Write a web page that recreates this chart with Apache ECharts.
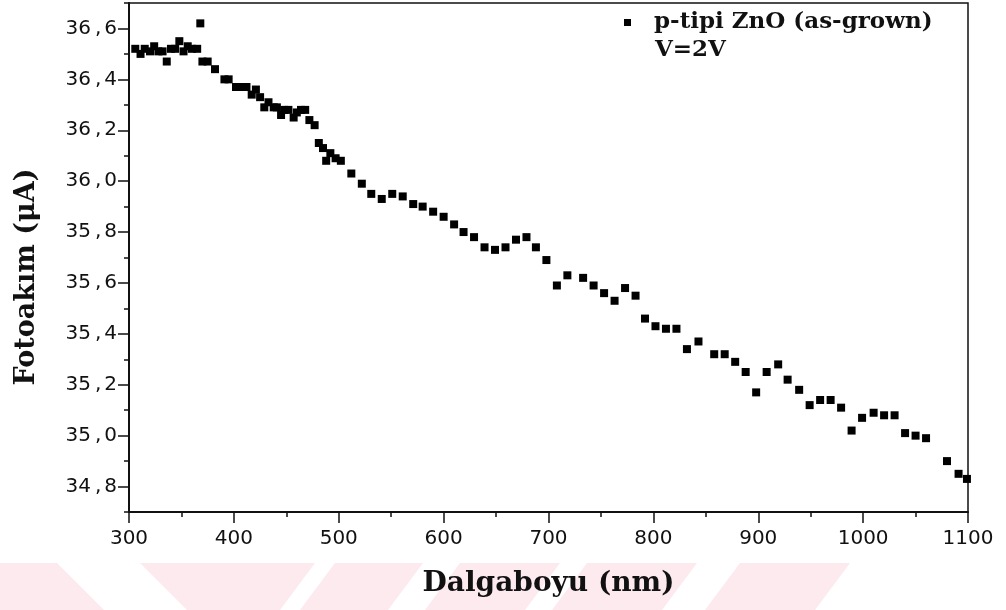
<!DOCTYPE html>
<html>
<head>
<meta charset="utf-8">
<script src="https://cdn.jsdelivr.net/npm/echarts@6/dist/echarts.min.js"></script>
<style>
  html, body { margin: 0; padding: 0; background: #ffffff; }
  #chart { width: 1006px; height: 610px; }
</style>
</head>
<body>
<div id="chart"></div>
<script>
// Photocurrent of p-type ZnO (as-grown) versus wavelength, bias 2 V
const wavelength = [
  306, 311, 315, 320, 324, 328, 332, 336, 340, 344,
  348, 352, 356, 360, 365, 368, 370, 375, 382, 391,
  395, 402, 406, 412, 417, 421, 425, 429, 433, 438,
  441, 445, 448, 452, 457, 460, 464, 468, 472, 477,
  481, 485, 488, 492, 497, 502,
  512, 522, 531, 541, 551, 561, 571, 580, 590, 600,
  610, 619, 629, 639, 649, 659, 669, 679, 688, 698,
  708, 718, 733, 743, 753, 763, 773, 783, 792, 802,
  812, 822, 832, 843, 858, 868, 878, 888, 898, 908,
  919, 928, 939, 949, 959, 969, 979, 989, 999, 1010,
  1020, 1030, 1040, 1050, 1060, 1080, 1091, 1099
];
const photocurrent = [
  36.52, 36.50, 36.52, 36.51, 36.53, 36.51, 36.51, 36.47, 36.52, 36.52,
  36.55, 36.51, 36.53, 36.52, 36.52, 36.62, 36.47, 36.47, 36.44, 36.40,
  36.40, 36.37, 36.37, 36.37, 36.34, 36.36, 36.33, 36.29, 36.31, 36.29,
  36.29, 36.26, 36.28, 36.28, 36.25, 36.27, 36.28, 36.28, 36.24, 36.22,
  36.15, 36.13, 36.08, 36.11, 36.09, 36.08,
  36.03, 35.99, 35.95, 35.93, 35.95, 35.94, 35.91, 35.90, 35.88, 35.86,
  35.83, 35.80, 35.78, 35.74, 35.73, 35.74, 35.77, 35.78, 35.74, 35.69,
  35.59, 35.63, 35.62, 35.59, 35.56, 35.53, 35.58, 35.55, 35.46, 35.43,
  35.42, 35.42, 35.34, 35.37, 35.32, 35.32, 35.29, 35.25, 35.17, 35.25,
  35.28, 35.22, 35.18, 35.12, 35.14, 35.14, 35.11, 35.02, 35.07, 35.09,
  35.08, 35.08, 35.01, 35.00, 34.99, 34.90, 34.85, 34.83
];
const yMajorTicks = [34.8, 35.0, 35.2, 35.4, 35.6, 35.8, 36.0, 36.2, 36.4, 36.6];
const yMinorTicks = [34.7, 34.9, 35.1, 35.3, 35.5, 35.7, 35.9, 36.1, 36.3, 36.5, 36.7];
const seriesName = 'p-tipi ZnO (as-grown)';
const biasNote = 'V=2V';
const xTitle = 'Dalgaboyu (nm)';
const yTitle = 'Fotoakım (μA)';

const INK = '#111111';
const MARK = '#000000';
const PINK = '#fdeaee';
const TICK_FONT = 'DejaVu Sans';
const TITLE_FONT = 'DejaVu Serif';

// faint diagonal bands along the bottom edge of the page
const bands = [
  [[0, 563], [57, 563], [104, 610], [0, 610]],
  [[140, 563], [315, 563], [280, 610], [187, 610]],
  [[335, 563], [423, 563], [388, 610], [300, 610]],
  [[460, 563], [560, 563], [525, 610], [425, 610]],
  [[587, 563], [697, 563], [662, 610], [552, 610]],
  [[740, 563], [850, 563], [815, 610], [705, 610]]
];

const chart = echarts.init(document.getElementById('chart'), null, { renderer: 'canvas' });

// decimal comma with a little air around it
function commaLabel(v) {
  const parts = (Math.round(v * 10) / 10).toFixed(1).split('.');
  return '{d|' + parts[0] + '}{c|,}{d|' + parts[1] + '}';
}

chart.setOption({
  backgroundColor: '#ffffff',
  animation: false,
  grid: {
    left: 129, right: 38, top: 3, bottom: 98,
    show: true, borderColor: INK, borderWidth: 1.5, backgroundColor: 'transparent'
  },
  legend: {
    data: [seriesName],
    left: 624, top: 11, padding: 0,
    icon: 'rect', itemWidth: 7, itemHeight: 7,
    textStyle: {
      fontFamily: TITLE_FONT, fontWeight: 'bold', fontSize: 23, color: INK,
      padding: [0, 0, 0, 18]
    }
  },
  xAxis: {
    type: 'value', min: 300, max: 1100, interval: 100,
    name: xTitle, nameLocation: 'middle', nameGap: 58,
    nameTextStyle: { fontFamily: TITLE_FONT, fontWeight: 'bold', fontSize: 28, color: INK },
    axisLine: { show: true, lineStyle: { color: INK, width: 2 } },
    axisTick: { show: true, length: 11, lineStyle: { color: INK, width: 1.5 } },
    minorTick: { show: true, splitNumber: 2, length: 5, lineStyle: { color: INK, width: 1.5 } },
    axisLabel: {
      fontFamily: TICK_FONT, fontSize: 20, color: INK, margin: 17,
      formatter: v => String(Math.round(v))
    },
    splitLine: { show: false }
  },
  yAxis: [
    {
      type: 'value', min: 34.7, max: 36.7,
      axisLine: { show: true, onZero: false, lineStyle: { color: INK, width: 2 } },
      axisTick: { show: true, length: 11, customValues: yMajorTicks, lineStyle: { color: INK, width: 1.5 } },
      axisLabel: {
        customValues: yMajorTicks, margin: 12, formatter: commaLabel,
        rich: {
          d: { fontFamily: TICK_FONT, fontSize: 20, color: INK },
          c: { fontFamily: TICK_FONT, fontSize: 20, color: INK, padding: [0, 3, 0, 4] }
        }
      },
      splitLine: { show: false }
    },
    {
      type: 'value', min: 34.7, max: 36.7, position: 'left',
      axisLine: { show: false },
      axisTick: { show: true, length: 5, customValues: yMinorTicks, lineStyle: { color: INK, width: 1.5 } },
      axisLabel: { show: false },
      splitLine: { show: false }
    }
  ],
  graphic: [
    ...bands.map(pts => ({
      type: 'polygon', z: -10, silent: true,
      shape: { points: pts },
      style: { fill: PINK }
    })),
    {
      type: 'text', x: 27, y: 277, rotation: Math.PI / 2,
      style: {
        text: yTitle, fill: INK, font: 'bold 27px "DejaVu Serif"',
        textAlign: 'center', textVerticalAlign: 'middle'
      }
    },
    {
      type: 'text', x: 655, y: 39,
      style: {
        text: biasNote, fill: INK, font: 'bold 23px "DejaVu Serif"',
        textAlign: 'left', textVerticalAlign: 'top'
      }
    }
  ],
  series: [{
    name: seriesName, type: 'scatter', yAxisIndex: 0,
    symbol: 'rect', symbolSize: 8,
    itemStyle: { color: MARK, opacity: 1 },
    data: wavelength.map((w, i) => [w, photocurrent[i]])
  }]
});
</script>
</body>
</html>
